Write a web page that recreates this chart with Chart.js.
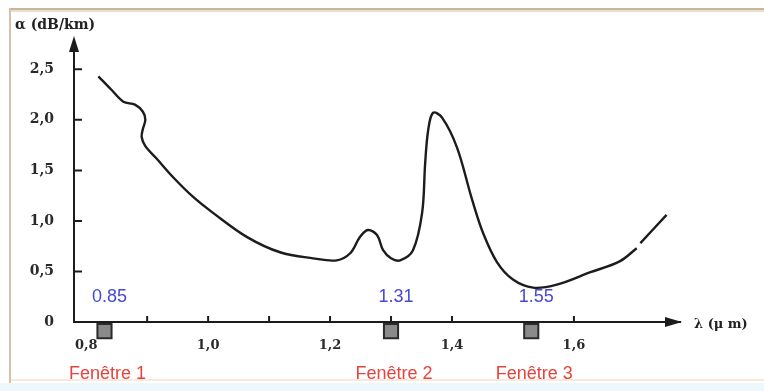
<!DOCTYPE html>
<html>
<head>
<meta charset="utf-8">
<script src="https://cdn.jsdelivr.net/npm/chart.js@4/dist/chart.umd.min.js"></script>
<style>
  html, body { margin: 0; padding: 0; background: #fff; }
  canvas { display: block; }
</style>
</head>
<body>
<canvas id="attChart" width="764" height="391"></canvas>
<script>
// ---- Données ----
const curveX = [0.820, 0.841, 0.861, 0.880, 0.893, 0.897, 0.893, 0.891, 0.897, 0.915,
                0.943, 0.975, 1.008, 1.064, 1.118, 1.172, 1.211, 1.233, 1.249, 1.262,
                1.277, 1.287, 1.300, 1.315, 1.336, 1.351, 1.356, 1.361, 1.369, 1.384,
                1.408, 1.433, 1.451, 1.474, 1.500, 1.533, 1.572, 1.626, 1.675, 1.703,
                1.706, 1.709, 1.752];
const curveY = [2.43, 2.30, 2.18, 2.15, 2.08, 2.00, 1.91, 1.83, 1.74, 1.62,
                1.43, 1.24, 1.08, 0.84, 0.69, 0.63, 0.61, 0.68, 0.84, 0.91,
                0.86, 0.71, 0.63, 0.61, 0.71, 1.08, 1.57, 1.90, 2.07, 2.02,
                1.73, 1.21, 0.88, 0.59, 0.42, 0.34, 0.37, 0.49, 0.60, 0.73,
                null, 0.78, 1.06];   // petite coupure du tracé vers 1,70 µm

const windowPos    = [0.83, 1.30, 1.53];      // position des carrés sur l'axe
const windowMarkY  = -0.09;
const windowValues = ['0.85', '1.31', '1.55'];
const windowNames  = ['Fenêtre 1', 'Fenêtre 2', 'Fenêtre 3'];

const yTicks = [0.5, 1.0, 1.5, 2.0, 2.5];
const xTicks = [0.9, 1.0, 1.1, 1.2, 1.3, 1.4, 1.6];
const xLabelled = [0.8, 1.0, 1.2, 1.4, 1.6];

const X_MIN = 0.78, X_MAX = 1.774;
const Y_MIN = 0, Y_MAX = 2.79;

const INK   = '#1c1c1c';
const BLUE  = '#4747d8';
const RED   = '#e5433d';
const SERIF = '"DejaVu Serif", serif';
const SANS  = '"Liberation Sans", Arial, sans-serif';

const fmt = v => v === 0 ? '0' : v.toFixed(1).replace('.', ',');

// ---- Décor : cadre, flèches, petites graduations, textes ----
const decorPlugin = {
  id: 'decor',
  beforeDraw(chart) {
    const c = chart.ctx;
    c.save();
    c.fillStyle = '#ffffff';
    c.fillRect(0, 0, chart.width, chart.height);
    c.fillStyle = '#eef8fc';
    c.fillRect(0, 383, chart.width, 8);
    c.fillStyle = '#fbe9dc';
    c.fillRect(11, 379, chart.width, 2);
    c.fillStyle = '#c7b59c';
    c.fillRect(9, 8, chart.width, 2);
    c.fillStyle = '#e9dfcf';
    c.fillRect(11, 10, chart.width, 2);
    c.fillStyle = '#d3c1ab';
    c.fillRect(9, 8, 2, 375);
    c.restore();
  },
  afterDraw(chart) {
    const c = chart.ctx;
    const a = chart.chartArea;
    const xs = chart.scales.x, ys = chart.scales.y;
    c.save();
    c.fillStyle = INK;
    c.strokeStyle = INK;
    c.lineWidth = 2;

    // flèche verticale
    c.beginPath();
    c.moveTo(a.left, a.top - 4);
    c.lineTo(a.left - 5, a.top + 12);
    c.lineTo(a.left + 5, a.top + 12);
    c.closePath();
    c.fill();
    // flèche horizontale
    c.beginPath();
    c.moveTo(a.right + 2, a.bottom);
    c.lineTo(a.right - 15, a.bottom - 5);
    c.lineTo(a.right - 15, a.bottom + 5);
    c.closePath();
    c.fill();

    // graduations vers l'intérieur
    c.beginPath();
    yTicks.forEach(v => {
      const y = ys.getPixelForValue(v);
      c.moveTo(a.left, y);
      c.lineTo(a.left + 8, y);
    });
    xTicks.forEach(v => {
      const x = xs.getPixelForValue(v);
      c.moveTo(x, a.bottom);
      c.lineTo(x, a.bottom - 6);
    });
    c.stroke();

    // titres des axes
    c.font = 'bold 14px ' + SERIF;
    c.textAlign = 'left';
    c.textBaseline = 'middle';
    c.fillStyle = '#222';
    c.fillText('α (dB/km)', 15, 25);
    c.font = 'bold 13px ' + SERIF;
    c.fillText('λ (μ m)', 694, a.bottom + 3);

    // fenêtres
    c.textAlign = 'center';
    windowPos.forEach((p, i) => {
      const x = xs.getPixelForValue(p);
      c.font = '18px ' + SANS;
      c.fillStyle = BLUE;
      c.fillText(windowValues[i], x + 5, a.bottom - 25);
      c.fillStyle = RED;
      c.fillText(windowNames[i], x + 3, a.bottom + 52);
    });
    c.restore();
  }
};

new Chart(document.getElementById('attChart'), {
  type: 'line',
  data: {
    datasets: [
      {
        data: curveX.map((x, i) => ({ x, y: curveY[i] })),
        borderColor: INK,
        borderWidth: 2.4,
        pointRadius: 0,
        tension: 0.35,
        fill: false,
        spanGaps: false,
      },
      {
        data: windowPos.map(x => ({ x, y: windowMarkY })),
        showLine: false,
        pointStyle: 'rect',
        pointRadius: 10,
        pointBackgroundColor: '#8a8a8a',
        pointBorderColor: '#2b2b2b',
        pointBorderWidth: 2,
        clip: false,
      }
    ]
  },
  options: {
    responsive: false,
    animation: false,
    devicePixelRatio: 1,
    layout: { padding: { top: 40, right: 84, bottom: 0, left: 0 } },
    plugins: { legend: { display: false }, tooltip: { enabled: false } },
    scales: {
      x: {
        type: 'linear',
        min: X_MIN,
        max: X_MAX,
        afterFit: s => { s.height = 69; },
        grid: { display: true, drawOnChartArea: false, drawTicks: false },
        border: { display: true, color: INK, width: 2 },
        ticks: {
          stepSize: 0.1,
          includeBounds: false,
          autoSkip: false,
          maxRotation: 0,
          padding: 16,
          color: '#2a2a2a',
          font: { family: SERIF, size: 13, weight: 'bold' },
          callback: v => xLabelled.some(t => Math.abs(t - v) < 1e-6) ? fmt(v) : ''
        }
      },
      y: {
        type: 'linear',
        min: Y_MIN,
        max: Y_MAX,
        afterFit: s => { s.width = 74; },
        grid: { display: true, drawOnChartArea: false, drawTicks: false },
        border: { display: true, color: INK, width: 2 },
        ticks: {
          stepSize: 0.5,
          includeBounds: false,
          padding: 20,
          color: '#2a2a2a',
          font: { family: SERIF, size: 14, weight: 'bold' },
          callback: v => fmt(v)
        }
      }
    }
  },
  plugins: [decorPlugin]
});
</script>
</body>
</html>
